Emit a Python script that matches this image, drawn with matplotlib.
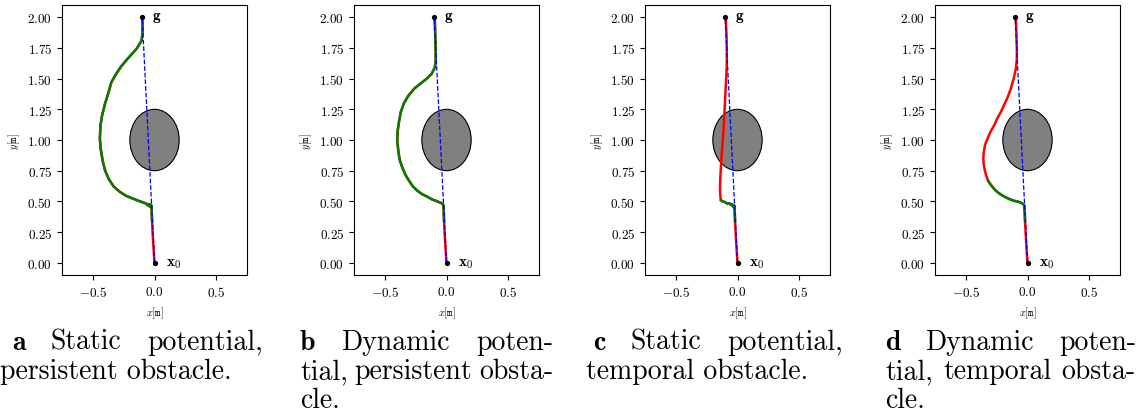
import matplotlib
matplotlib.use("Agg")
import matplotlib.pyplot as plt
from matplotlib.patches import Ellipse

plt.rcParams["font.family"] = "serif"
plt.rcParams["font.serif"] = ["cmr10"]
plt.rcParams["mathtext.fontset"] = "cm"
plt.rcParams["axes.formatter.use_mathtext"] = True

# start, goal and obstacle
start = (0.0, 0.0)
goal = (-0.1, 2.0)
obstacle_center = (0.0, 1.0)
obstacle_size = (0.4, 0.5)

# panel a: static potential, persistent obstacle
a_red1_x = [0.0, -0.008, -0.015, -0.02]
a_red1_y = [0.0, 0.12, 0.24, 0.34]
a_green_x = [-0.02, -0.022, -0.024, -0.03, -0.037, -0.045, -0.055, -0.07, -0.09, -0.13,
             -0.17, -0.23, -0.28, -0.33, -0.37, -0.40, -0.42, -0.435, -0.443, -0.438,
             -0.425, -0.40, -0.375, -0.35, -0.31, -0.27, -0.22, -0.175, -0.14, -0.105,
             -0.097, -0.097, -0.1]
a_green_y = [0.34, 0.40, 0.46, 0.475, 0.455, 0.478, 0.468, 0.483, 0.49, 0.505,
             0.52, 0.545, 0.577, 0.62, 0.68, 0.75, 0.83, 0.92, 1.01, 1.12,
             1.2, 1.30, 1.38, 1.47, 1.54, 1.60, 1.66, 1.71, 1.75, 1.81,
             1.88, 1.95, 2.0]
a_red2_x = []
a_red2_y = []

# panel b: dynamic potential, persistent obstacle
b_red1_x = [0.0, -0.008, -0.015, -0.02]
b_red1_y = [0.0, 0.12, 0.24, 0.34]
b_green_x = [-0.02, -0.022, -0.025, -0.04, -0.075, -0.115, -0.155, -0.20, -0.24, -0.275,
             -0.305, -0.335, -0.36, -0.38, -0.39, -0.40, -0.395, -0.385, -0.37, -0.345,
             -0.31, -0.26, -0.21, -0.16, -0.12, -0.095, -0.087, -0.088, -0.092, -0.095]
b_green_y = [0.34, 0.42, 0.47, 0.485, 0.50, 0.515, 0.537, 0.56, 0.59, 0.625,
             0.67, 0.72, 0.78, 0.84, 0.905, 1.0, 1.08, 1.15, 1.23, 1.30,
             1.36, 1.42, 1.46, 1.50, 1.54, 1.59, 1.65, 1.75, 1.88, 2.0]
b_red2_x = []
b_red2_y = []

# panel c: static potential, temporal obstacle
c_red1_x = [0.0, -0.01, -0.018, -0.02]
c_red1_y = [0.0, 0.15, 0.30, 0.34]
c_green_x = [-0.02, -0.022, -0.025, -0.03, -0.035, -0.042, -0.05, -0.065, -0.08, -0.10,
             -0.12, -0.135]
c_green_y = [0.34, 0.40, 0.46, 0.47, 0.455, 0.475, 0.47, 0.485, 0.48, 0.493,
             0.50, 0.51]
c_red2_x = [-0.135, -0.14, -0.142, -0.138, -0.13, -0.122, -0.114, -0.107, -0.10, -0.093,
            -0.087, -0.087, -0.088, -0.093, -0.095]
c_red2_y = [0.51, 0.55, 0.62, 0.72, 0.85, 0.96, 1.07, 1.2, 1.34, 1.48,
            1.61, 1.72, 1.83, 1.93, 2.0]

# panel d: dynamic potential, temporal obstacle
d_red1_x = [0.0, -0.01, -0.018, -0.02]
d_red1_y = [0.0, 0.15, 0.30, 0.34]
d_green_x = [-0.02, -0.022, -0.027, -0.045, -0.068, -0.11, -0.15, -0.19, -0.23, -0.26,
             -0.285, -0.305, -0.32]
d_green_y = [0.34, 0.40, 0.47, 0.485, 0.495, 0.505, 0.52, 0.54, 0.565, 0.59,
             0.62, 0.645, 0.67]
d_red2_x = [-0.32, -0.335, -0.347, -0.355, -0.358, -0.355, -0.344, -0.325, -0.30, -0.27,
            -0.245, -0.215, -0.19, -0.16, -0.135, -0.112, -0.095, -0.087, -0.086, -0.088,
            -0.09, -0.095]
d_red2_y = [0.67, 0.71, 0.755, 0.80, 0.85, 0.90, 0.96, 1.01, 1.067, 1.12,
            1.176, 1.23, 1.285, 1.35, 1.42, 1.50, 1.58, 1.65, 1.72, 1.80,
            1.88, 2.0]

panels = [
    (a_red1_x, a_red1_y, a_green_x, a_green_y, a_red2_x, a_red2_y),
    (b_red1_x, b_red1_y, b_green_x, b_green_y, b_red2_x, b_red2_y),
    (c_red1_x, c_red1_y, c_green_x, c_green_y, c_red2_x, c_red2_y),
    (d_red1_x, d_red1_y, d_green_x, d_green_y, d_red2_x, d_red2_y),
]

# captions: (letter, justified first line words, justified middle lines, last line)
captions = [
    ("a", ["Static", "potential,"], [], "persistent obstacle."),
    ("b", ["Dynamic", "poten-"], [["tial,", "persistent", "obsta-"]], "cle."),
    ("c", ["Static", "potential,"], [], "temporal obstacle."),
    ("d", ["Dynamic", "poten-"], [["tial,", "temporal", "obsta-"]], "cle."),
]

W, H = 1140, 414
fig = plt.figure(figsize=(W / 100, H / 100), dpi=100)

ax_lefts = [62, 354, 645, 935]
for k, (r1x, r1y, gx, gy, r2x, r2y) in enumerate(panels):
    ax = fig.add_axes([ax_lefts[k] / W, 1 - 276 / H, 185 / W, 270 / H])
    ax.add_patch(Ellipse(obstacle_center, obstacle_size[0], obstacle_size[1],
                         facecolor="gray", edgecolor="black", linewidth=0.8, zorder=1))
    ax.plot(r1x + gx + r2x, r1y + gy + r2y, color="red", linewidth=1.8, zorder=2)
    ax.plot(gx, gy, color="green", linewidth=1.8, zorder=3)
    ax.plot([start[0], goal[0]], [start[1], goal[1]], "--", color="blue",
            linewidth=0.9, zorder=4)
    ax.plot([start[0], goal[0]], [start[1], goal[1]], "o", color="black",
            markersize=2.8, zorder=5)
    ax.text(goal[0] + 0.08, goal[1], r"$\mathbf{g}$", fontsize=11, va="center")
    ax.text(start[0] + 0.09, start[1], r"$\mathbf{x}_0$", fontsize=11, va="center")
    ax.set_xlim(-0.75, 0.75)
    ax.set_ylim(-0.1, 2.1)
    ax.set_xticks([-0.5, 0.0, 0.5])
    ax.set_yticks([0.0, 0.25, 0.5, 0.75, 1.0, 1.25, 1.5, 1.75, 2.0])
    ax.tick_params(labelsize=9.5)
    ax.set_xlabel(r"$x[\mathtt{m}]$", fontsize=7.5)
    ax.set_ylabel(r"$y[\mathtt{m}]$", fontsize=7.5)

fig.canvas.draw()
renderer = fig.canvas.get_renderer()

cap_size = 20
col_left = [12, 300, 593, 885]
col_right = [263, 553, 843, 1136]
last_left = [0, 300, 586, 885]
baselines = [350, 379, 408]


def justify(words, fams, x0, x1, y):
    arts = [fig.text(0, 1 - y / H, w, fontsize=cap_size, family=f, va="baseline")
            for w, f in zip(words, fams)]
    widths = [t.get_window_extent(renderer).width for t in arts]
    gap = (x1 - x0 - sum(widths)) / (len(words) - 1)
    x = x0
    for t, w in zip(arts, widths):
        t.set_x(x / W)
        x += w + gap


for k, (letter, first, middle, last) in enumerate(captions):
    justify([letter] + first, ["cmb10"] + ["cmr10"] * len(first),
            col_left[k], col_right[k], baselines[0])
    for j, words in enumerate(middle):
        justify(words, ["cmr10"] * len(words), last_left[k], col_right[k], baselines[1 + j])
    fig.text(last_left[k] / W, 1 - baselines[1 + len(middle)] / H, last,
             fontsize=cap_size, family="cmr10", va="baseline")

fig.savefig("out.png", dpi=100)
